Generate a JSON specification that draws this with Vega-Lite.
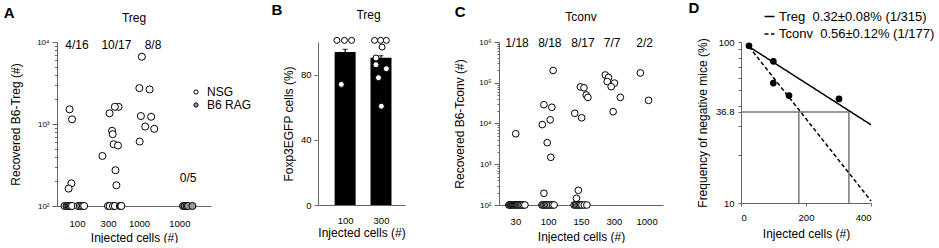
{
  "$schema": "https://vega.github.io/schema/vega-lite/v6.json",
  "padding": {"left": 3, "top": 1, "right": 0, "bottom": 0},
  "config": {
    "font": "Liberation Sans",
    "view": {"stroke": null},
    "axis": {"grid": false, "domainColor": "#666", "tickColor": "#666", "labelColor": "black", "titleColor": "black", "titleFontWeight": "normal", "titleFontSize": 12, "labelFontSize": 9.5, "labelFont": "Liberation Sans", "titleFont": "Liberation Sans"},
    "title": {"fontWeight": "normal", "fontSize": 12, "anchor": "middle", "font": "Liberation Sans"},
    "legend": {"labelFont": "Liberation Sans"}
  },
  "spacing": 47,
  "resolve": {"scale": {"fill": "independent", "strokeDash": "independent"}},
  "hconcat": [
    {
      "spacing": 19,
      "resolve": {"scale": {"fill": "independent", "strokeDash": "independent"}},
      "hconcat": [
        {
          "title": {"text": "A", "anchor": "start", "frame": "bounds", "fontSize": 15, "fontWeight": "bold", "offset": -9, "dx": -6},
          "resolve": {"scale": {"fill": "independent", "strokeDash": "independent"}},
          "hconcat": [
            {
              "width": 154, "height": 164,
              "title": {"text": "Treg", "offset": 13, "frame": "group"},
              "layer": [
                {
                  "data": {"values": [
                    {"strain": "NSG", "pos": 0.76, "val": 1510}, {"strain": "NSG", "pos": 0.84, "val": 1140}, {"strain": "NSG", "pos": 0.82, "val": 189}, {"strain": "NSG", "pos": 0.73, "val": 163},
                    {"strain": "NSG", "pos": 0.60, "val": 100}, {"strain": "NSG", "pos": 0.66, "val": 100}, {"strain": "NSG", "pos": 0.69, "val": 100}, {"strain": "NSG", "pos": 0.73, "val": 100},
                    {"strain": "NSG", "pos": 0.76, "val": 100}, {"strain": "NSG", "pos": 0.80, "val": 100}, {"strain": "NSG", "pos": 0.84, "val": 100}, {"strain": "NSG", "pos": 1.03, "val": 100},
                    {"strain": "NSG", "pos": 1.09, "val": 100}, {"strain": "NSG", "pos": 1.14, "val": 100}, {"strain": "NSG", "pos": 1.19, "val": 100}, {"strain": "NSG", "pos": 1.23, "val": 100},
                    {"strain": "NSG", "pos": 2.34, "val": 1620}, {"strain": "NSG", "pos": 2.22, "val": 1620}, {"strain": "NSG", "pos": 2.05, "val": 1350}, {"strain": "NSG", "pos": 2.13, "val": 826},
                    {"strain": "NSG", "pos": 2.15, "val": 751}, {"strain": "NSG", "pos": 2.18, "val": 567}, {"strain": "NSG", "pos": 2.32, "val": 546}, {"strain": "NSG", "pos": 1.82, "val": 408},
                    {"strain": "NSG", "pos": 2.24, "val": 273}, {"strain": "NSG", "pos": 2.27, "val": 179},
                    {"strain": "NSG", "pos": 2.00, "val": 100}, {"strain": "NSG", "pos": 2.05, "val": 100}, {"strain": "NSG", "pos": 2.16, "val": 100}, {"strain": "NSG", "pos": 2.22, "val": 100},
                    {"strain": "NSG", "pos": 2.38, "val": 100}, {"strain": "NSG", "pos": 2.41, "val": 100}, {"strain": "NSG", "pos": 2.43, "val": 100},
                    {"strain": "NSG", "pos": 3.09, "val": 6610}, {"strain": "NSG", "pos": 3.01, "val": 2740}, {"strain": "NSG", "pos": 3.34, "val": 2640}, {"strain": "NSG", "pos": 3.06, "val": 1250},
                    {"strain": "NSG", "pos": 3.39, "val": 1225}, {"strain": "NSG", "pos": 3.20, "val": 931}, {"strain": "NSG", "pos": 3.49, "val": 873}, {"strain": "NSG", "pos": 3.02, "val": 611},
                    {"strain": "B6 RAG", "pos": 4.42, "val": 100}, {"strain": "B6 RAG", "pos": 4.47, "val": 100}, {"strain": "B6 RAG", "pos": 4.53, "val": 100}, {"strain": "B6 RAG", "pos": 4.58, "val": 100}, {"strain": "B6 RAG", "pos": 4.72, "val": 100}
                  ]},
                  "mark": {"type": "point", "shape": "circle", "filled": true, "size": 50, "stroke": "black", "strokeWidth": 1, "opacity": 1},
                  "encoding": {
                    "x": {"field": "pos", "type": "quantitative", "scale": {"domain": [0.355, 5.32], "nice": false, "zero": false},
                      "axis": {"title": "Injected cells (#)", "values": [1, 1.6, 2, 2.6, 3, 3.6, 4.3, 5.3], "labelExpr": "datum.value==1?'100':datum.value==2?'300':datum.value==3?'1000':datum.value==4.3?'1000':''", "tickSize": 3, "tickOpacity": {"condition": {"test": "datum.value==1||datum.value==2||datum.value==3||datum.value==4.3", "value": 0}, "value": 1}, "labelPadding": 9, "titlePadding": 4.5}},
                    "y": {"field": "val", "type": "quantitative", "scale": {"type": "log", "domain": [100, 10000], "nice": false},
                      "axis": {"title": "Recovered B6-Treg (#)", "values": [100, 200, 300, 400, 500, 600, 700, 800, 900, 1000, 2000, 3000, 4000, 5000, 6000, 7000, 8000, 9000, 10000],
                        "labelExpr": "datum.value==100?'10²':datum.value==1000?'10³':datum.value==10000?'10⁴':''", "labelFontSize": 8,
                        "tickSize": {"condition": {"test": "datum.value==100||datum.value==1000||datum.value==10000", "value": 5}, "value": 2.5}, "labelPadding": 3, "titlePadding": 14}},
                    "fill": {"field": "strain", "type": "nominal", "scale": {"domain": ["NSG", "B6 RAG"], "range": ["white", "#999999"]},
                      "legend": {"orient": "none", "legendX": 133, "legendY": 44, "title": null, "labelFontSize": 12, "symbolType": "circle", "symbolSize": 18, "symbolStrokeColor": "black", "symbolStrokeWidth": 1, "rowPadding": 1, "labelOffset": 5}}
                  }
                },
                {
                  "data": {"values": [
                    {"label": "4/16", "pos": 1.0, "val": 10000}, {"label": "10/17", "pos": 2.27, "val": 10000}, {"label": "8/8", "pos": 3.45, "val": 10000}, {"label": "0/5", "pos": 4.58, "val": 240}
                  ]},
                  "mark": {"type": "text", "fontSize": 12, "baseline": "middle", "dy": 3},
                  "encoding": {
                    "x": {"field": "pos", "type": "quantitative"},
                    "y": {"field": "val", "type": "quantitative"},
                    "text": {"field": "label"}
                  }
                }
              ]
            }
          ]
        },
        {
          "title": {"text": "B", "anchor": "start", "frame": "bounds", "fontSize": 15, "fontWeight": "bold", "offset": -9, "dx": -11},
          "resolve": {"scale": {"fill": "independent", "strokeDash": "independent"}},
          "hconcat": [
            {
              "width": 87, "height": 163,
              "title": {"text": "Treg", "offset": 13, "frame": "group", "dx": 7},
              "layer": [
                {
                  "data": {"values": [{"pos": 1, "mean": 93.9, "hi": 95.5}, {"pos": 2, "mean": 90.4, "hi": 91.6}]},
                  "mark": {"type": "bar", "size": 21, "color": "black"},
                  "encoding": {
                    "x": {"field": "pos", "type": "quantitative", "scale": {"domain": [0.383, 2.53], "nice": false, "zero": false},
                      "axis": {"title": "Injected cells (#)", "values": [1, 2], "labelExpr": "datum.value==1?'100':'300'", "ticks": false, "labelPadding": 10, "titlePadding": 3}},
                    "y": {"field": "mean", "type": "quantitative", "scale": {"domain": [0, 100], "nice": false},
                      "axis": {"title": "Foxp3EGFP cells (%)", "values": [0, 20, 40, 60, 80, 100], "tickSize": 4, "labelPadding": 3, "titlePadding": 5}}
                  }
                },
                {
                  "data": {"values": [{"pos": 1, "mean": 93.9, "hi": 95.5}, {"pos": 2, "mean": 90.4, "hi": 91.6}]},
                  "mark": {"type": "rule", "color": "black", "strokeWidth": 1.2},
                  "encoding": {"x": {"field": "pos", "type": "quantitative"}, "y": {"field": "mean", "type": "quantitative"}, "y2": {"field": "hi"}}
                },
                {
                  "data": {"values": [{"pos": 1, "mean": 93.9, "hi": 95.5}, {"pos": 2, "mean": 90.4, "hi": 91.6}]},
                  "mark": {"type": "tick", "orient": "horizontal", "size": 5, "thickness": 1.2, "color": "black"},
                  "encoding": {"x": {"field": "pos", "type": "quantitative"}, "y": {"field": "hi", "type": "quantitative"}}
                },
                {
                  "data": {"values": [
                    {"pos": 0.77, "val": 101}, {"pos": 0.98, "val": 101}, {"pos": 1.18, "val": 101}, {"pos": 0.894, "val": 74},
                    {"pos": 1.82, "val": 101}, {"pos": 1.99, "val": 101}, {"pos": 2.15, "val": 101}, {"pos": 2.03, "val": 96.9},
                    {"pos": 1.86, "val": 90.2}, {"pos": 1.86, "val": 86.1}, {"pos": 2.15, "val": 83.6}, {"pos": 1.93, "val": 78.1}, {"pos": 2.01, "val": 60.6}
                  ]},
                  "mark": {"type": "point", "shape": "circle", "filled": true, "fill": "white", "size": 36, "stroke": "black", "strokeWidth": 1, "opacity": 1},
                  "encoding": {"x": {"field": "pos", "type": "quantitative"}, "y": {"field": "val", "type": "quantitative"}}
                }
              ]
            }
          ]
        }
      ]
    },
    {
      "spacing": 25,
      "resolve": {"scale": {"fill": "independent", "strokeDash": "independent"}},
      "hconcat": [
        {
          "title": {"text": "C", "anchor": "start", "frame": "bounds", "fontSize": 15, "fontWeight": "bold", "offset": -9, "dx": 1},
          "resolve": {"scale": {"fill": "independent", "strokeDash": "independent"}},
          "hconcat": [
            {
              "width": 164, "height": 163,
              "title": {"text": "Tconv", "offset": 13, "frame": "group"},
              "layer": [
                {
                  "data": {"values": [
                    {"pos": 1.01, "val": 5600},
                    {"pos": 0.80, "val": 100}, {"pos": 0.83, "val": 100}, {"pos": 0.86, "val": 100}, {"pos": 0.88, "val": 100}, {"pos": 0.91, "val": 100}, {"pos": 0.94, "val": 100},
                    {"pos": 0.97, "val": 100}, {"pos": 1.00, "val": 100}, {"pos": 1.03, "val": 100}, {"pos": 1.06, "val": 100}, {"pos": 1.08, "val": 100}, {"pos": 1.11, "val": 100},
                    {"pos": 1.14, "val": 100}, {"pos": 1.17, "val": 100}, {"pos": 1.20, "val": 100}, {"pos": 1.24, "val": 100}, {"pos": 1.29, "val": 100},
                    {"pos": 2.15, "val": 200000}, {"pos": 1.87, "val": 28900}, {"pos": 2.11, "val": 25000}, {"pos": 2.06, "val": 12300}, {"pos": 1.82, "val": 9400},
                    {"pos": 1.97, "val": 3390}, {"pos": 2.08, "val": 1480}, {"pos": 1.87, "val": 194},
                    {"pos": 1.81, "val": 100}, {"pos": 1.84, "val": 100}, {"pos": 1.87, "val": 100}, {"pos": 1.91, "val": 100}, {"pos": 1.95, "val": 100},
                    {"pos": 1.99, "val": 100}, {"pos": 2.03, "val": 100}, {"pos": 2.08, "val": 100}, {"pos": 2.13, "val": 100}, {"pos": 2.18, "val": 100},
                    {"pos": 2.98, "val": 79000}, {"pos": 3.09, "val": 75000}, {"pos": 3.16, "val": 50000}, {"pos": 3.21, "val": 43700}, {"pos": 2.81, "val": 17800},
                    {"pos": 3.02, "val": 13800}, {"pos": 2.92, "val": 229}, {"pos": 2.86, "val": 146},
                    {"pos": 2.79, "val": 100}, {"pos": 2.83, "val": 100}, {"pos": 2.87, "val": 100}, {"pos": 2.91, "val": 100}, {"pos": 2.95, "val": 100},
                    {"pos": 2.99, "val": 100}, {"pos": 3.03, "val": 100}, {"pos": 3.10, "val": 100}, {"pos": 3.18, "val": 100},
                    {"pos": 3.74, "val": 155000}, {"pos": 3.84, "val": 135000}, {"pos": 3.80, "val": 107000}, {"pos": 4.02, "val": 98000}, {"pos": 3.92, "val": 80000},
                    {"pos": 4.20, "val": 43700}, {"pos": 3.98, "val": 19500},
                    {"pos": 4.81, "val": 174000}, {"pos": 5.06, "val": 37000}
                  ]},
                  "mark": {"type": "point", "shape": "circle", "filled": true, "fill": "white", "size": 45, "stroke": "black", "strokeWidth": 1, "opacity": 1},
                  "encoding": {
                    "x": {"field": "pos", "type": "quantitative", "scale": {"domain": [0.5, 5.5], "nice": false, "zero": false},
                      "axis": {"title": "Injected cells (#)", "values": [1, 1.5, 2, 2.5, 3, 3.5, 4, 4.5, 5, 5.5], "labelExpr": "datum.value==1?'30':datum.value==2?'100':datum.value==3?'150':datum.value==4?'300':datum.value==5?'1000':''",
                        "tickSize": 3, "tickOpacity": {"condition": {"test": "datum.value % 1 == 0", "value": 0}, "value": 1}, "labelPadding": 8, "titlePadding": 5.5}},
                    "y": {"field": "val", "type": "quantitative", "scale": {"type": "log", "domain": [100, 1000000], "nice": false},
                      "axis": {"title": "Recovered B6-Tconv (#)",
                        "values": [100, 200, 300, 400, 500, 600, 700, 800, 900, 1000, 2000, 3000, 4000, 5000, 6000, 7000, 8000, 9000, 10000, 20000, 30000, 40000, 50000, 60000, 70000, 80000, 90000, 100000, 200000, 300000, 400000, 500000, 600000, 700000, 800000, 900000, 1000000],
                        "labelExpr": "datum.value==100?'10²':datum.value==1000?'10³':datum.value==10000?'10⁴':datum.value==100000?'10⁵':datum.value==1000000?'10⁶':''", "labelFontSize": 8,
                        "tickSize": {"condition": {"test": "datum.value==100||datum.value==1000||datum.value==10000||datum.value==100000||datum.value==1000000", "value": 5}, "value": 2}, "labelPadding": 3, "titlePadding": 12}}
                  }
                },
                {
                  "data": {"values": [
                    {"label": "1/18", "pos": 1.05, "val": 1000000}, {"label": "8/18", "pos": 2.05, "val": 1000000}, {"label": "8/17", "pos": 3.06, "val": 1000000}, {"label": "7/7", "pos": 3.95, "val": 1000000}, {"label": "2/2", "pos": 4.94, "val": 1000000}
                  ]},
                  "mark": {"type": "text", "fontSize": 12, "baseline": "middle", "dy": 1},
                  "encoding": {
                    "x": {"field": "pos", "type": "quantitative"},
                    "y": {"field": "val", "type": "quantitative"},
                    "text": {"field": "label"}
                  }
                }
              ]
            }
          ]
        },
        {
          "title": {"text": "D", "anchor": "start", "frame": "bounds", "fontSize": 15, "fontWeight": "bold", "offset": -6, "dx": -8},
          "resolve": {"scale": {"fill": "independent", "strokeDash": "independent"}},
          "hconcat": [
            {
              "width": 130, "height": 161,
              "layer": [
                {
                  "data": {"values": [
                    {"x": 0, "x2": 332, "y": 36.8, "y2": 36.8}, {"x": 178, "x2": 178, "y": 10, "y2": 36.8}, {"x": 332, "x2": 332, "y": 10, "y2": 36.8}
                  ]},
                  "mark": {"type": "rule", "color": "#777777", "strokeWidth": 1.5},
                  "encoding": {
                    "x": {"field": "x", "type": "quantitative", "scale": {"domain": [0, 400], "nice": false},
                      "axis": {"title": "Injected cells (#)", "values": [0, 25, 50, 75, 100, 125, 150, 175, 200, 225, 250, 275, 300, 325, 350, 375, 400], "labelExpr": "datum.value % 100 == 0 ? datum.label : ''", "tickSize": 3, "labelPadding": 6, "titlePadding": 6.5}},
                    "x2": {"field": "x2"},
                    "y": {"field": "y", "type": "quantitative", "scale": {"type": "log", "domain": [10, 100], "nice": false},
                      "axis": {"title": "Frequency of negative mice (%)", "values": [10, 20, 30, 36.8, 40, 50, 60, 70, 80, 90, 100],
                        "labelExpr": "datum.value==10?'10':datum.value==36.8?'36.8':datum.value==100?'100':''", "tickSize": 3, "labelPadding": 4, "titlePadding": 6}},
                    "y2": {"field": "y2"}
                  }
                },
                {
                  "data": {"values": [
                    {"s": "Treg\u00a0 0.32±0.08% (1/315)", "x": 24.6, "y": 93.5}, {"s": "Treg\u00a0 0.32±0.08% (1/315)", "x": 400, "y": 30.6},
                    {"s": "Tconv\u00a0 0.56±0.12% (1/177)", "x": 24.6, "y": 93.5}, {"s": "Tconv\u00a0 0.56±0.12% (1/177)", "x": 400, "y": 10.3}
                  ]},
                  "mark": {"type": "line", "color": "black", "strokeWidth": 1.5},
                  "encoding": {
                    "x": {"field": "x", "type": "quantitative"},
                    "y": {"field": "y", "type": "quantitative"},
                    "strokeDash": {"field": "s", "type": "nominal", "scale": {"domain": ["Treg\u00a0 0.32±0.08% (1/315)", "Tconv\u00a0 0.56±0.12% (1/177)"], "range": [[1, 0], [4, 2.5]]},
                      "legend": {"orient": "none", "legendX": 22, "legendY": -32, "title": null, "labelFontSize": 13, "symbolType": "stroke", "symbolSize": 100, "symbolStrokeWidth": 1.5, "symbolStrokeColor": "black", "labelLimit": 300, "rowPadding": 3.5, "labelOffset": 3}}
                  }
                },
                {
                  "data": {"values": [
                    {"x": 24.6, "y": 94.8}, {"x": 99.5, "y": 75.9}, {"x": 99.5, "y": 55.6}, {"x": 147.7, "y": 46.5}, {"x": 301.5, "y": 44.3}
                  ]},
                  "mark": {"type": "circle", "color": "black", "size": 45, "opacity": 1},
                  "encoding": {"x": {"field": "x", "type": "quantitative"}, "y": {"field": "y", "type": "quantitative"}}
                }
              ]
            }
          ]
        }
      ]
    }
  ]
}
